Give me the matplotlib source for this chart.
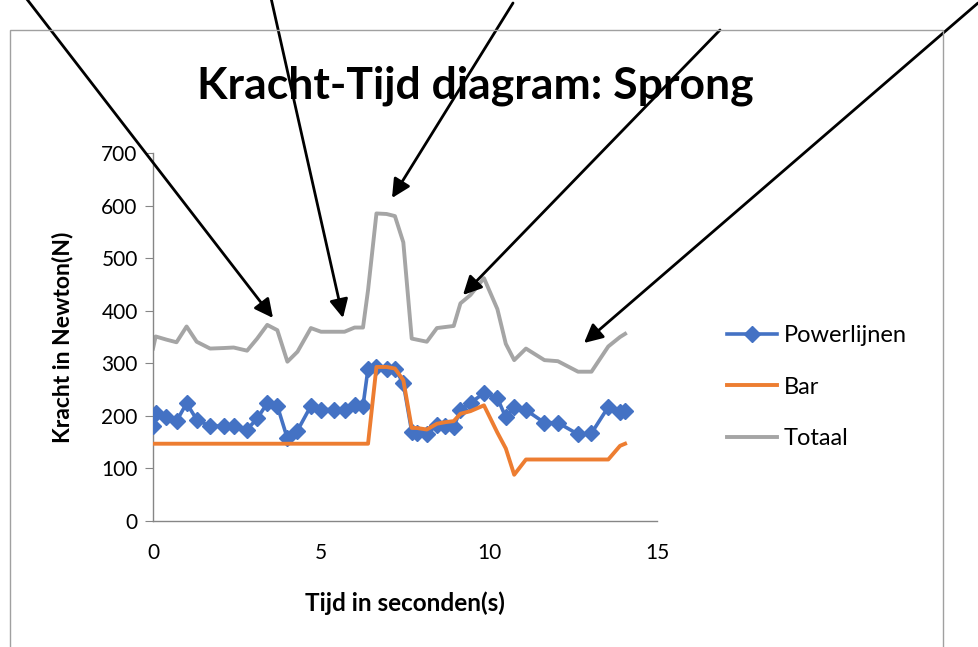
import matplotlib
matplotlib.use("Agg")
import matplotlib.pyplot as plt
from matplotlib.patches import Rectangle

# tijd (s) van elk meetpunt
tijd = [0, 0.08, 0.4, 0.7, 1.0, 1.3, 1.7, 2.1, 2.4, 2.8, 3.1, 3.4, 3.7, 4.0, 4.3,
        4.7, 5.0, 5.4, 5.7, 6.0, 6.25, 6.4, 6.65, 6.95, 7.2, 7.45, 7.7, 7.85, 8.15,
        8.45, 8.7, 8.95, 9.15, 9.45, 9.85, 10.25, 10.5, 10.75, 11.1, 11.65, 12.05,
        12.65, 13.05, 13.55, 13.9, 14.05]

powerlijnen = [180, 205, 197, 190, 224, 193, 180, 181, 181, 174, 195, 224, 219, 157, 172,
               219, 212, 212, 211, 221, 219, 290, 292, 289, 290, 262, 170, 168, 165,
               183, 181, 179, 211, 225, 243, 234, 197, 216, 211, 187, 187,
               165, 167, 217, 208, 209]

bar = [147, 147, 147, 147, 147, 147, 147, 147, 147, 147, 147, 147, 147, 147, 147,
       147, 147, 147, 147, 147, 147, 147, 293, 293, 290, 268, 177, 177, 174,
       185, 188, 190, 204, 209, 220, 168, 138, 88, 117, 117, 117,
       117, 117, 117, 143, 147]

totaal = [328, 351, 345, 340, 370, 341, 328, 329, 330, 324, 347, 373, 363, 303, 322,
          367, 360, 360, 360, 368, 368, 439, 585, 584, 580, 530, 347, 345, 341,
          367, 369, 371, 414, 430, 462, 403, 337, 306, 328, 306, 304,
          284, 284, 332, 350, 356]

# pijlen: (start, punt) in pixels van het plaatje (y van boven)
pijlen = [((26, -2), (273, 318)),
          ((271, -2), (343, 318)),
          ((513, 3), (392, 198)),
          ((720, 30), (463, 295)),
          ((978, 3), (584, 343))]

W, H = 979, 647
plt.rcParams['font.family'] = ['Lato', 'DejaVu Sans']

fig = plt.figure(figsize=(W / 100, H / 100), dpi=100)
ax = fig.add_axes([153 / W, 1 - 521 / H, (657 - 153) / W, (521 - 153) / H])

ax.plot(tijd, powerlijnen, color='#4472C4', lw=2.6, marker='D', markersize=8,
        label='Powerlijnen', zorder=3)
ax.plot(tijd, bar, color='#ED7D31', lw=2.8, label='Bar', zorder=4)
ax.plot(tijd, totaal, color='#A5A5A5', lw=2.8, label='Totaal', zorder=2)

ax.set_xlim(0, 15)
ax.set_ylim(0, 700)
ax.set_xticks([0, 5, 10, 15])
ax.set_yticks(range(0, 701, 100))
for s in ['top', 'right']:
    ax.spines[s].set_visible(False)
for s in ['left', 'bottom']:
    ax.spines[s].set_color('#868686')
    ax.spines[s].set_linewidth(1)
ax.tick_params(axis='y', length=6, color='#868686', labelsize=15, pad=5)
ax.tick_params(axis='x', length=0, color='#868686', labelsize=15, pad=16)

ax.set_xlabel('Tijd in seconden(s)', fontsize=17.5, fontweight='bold', labelpad=20)
ax.set_ylabel('Kracht in Newton(N)', fontsize=16.5, fontweight='bold', labelpad=20)

fig.text(475 / W, 1 - 86 / H, 'Kracht-Tijd diagram: Sprong', ha='center', va='center',
         fontsize=32, fontweight='bold')

ax.legend(loc='center left', bbox_to_anchor=(706 / W, 1 - 387 / H),
          bbox_transform=fig.transFigure, frameon=False, fontsize=17,
          handlelength=2.1, labelspacing=1.3, handletextpad=0.3)

# rand van het diagram
fig.add_artist(Rectangle((10 / W, -0.01), (943 - 10) / W, 1 - 30 / H + 0.01,
                         transform=fig.transFigure, fill=False,
                         edgecolor='#A0A0A0', lw=1))

for (x0, y0), (x1, y1) in pijlen:
    ax.annotate('', xy=(x1, H - y1), xycoords='figure pixels',
                xytext=(x0, H - y0), textcoords='figure pixels',
                arrowprops=dict(arrowstyle='-|>', color='black', lw=2,
                                mutation_scale=28, shrinkA=0, shrinkB=0),
                annotation_clip=False)

fig.savefig('out.png', dpi=100)
